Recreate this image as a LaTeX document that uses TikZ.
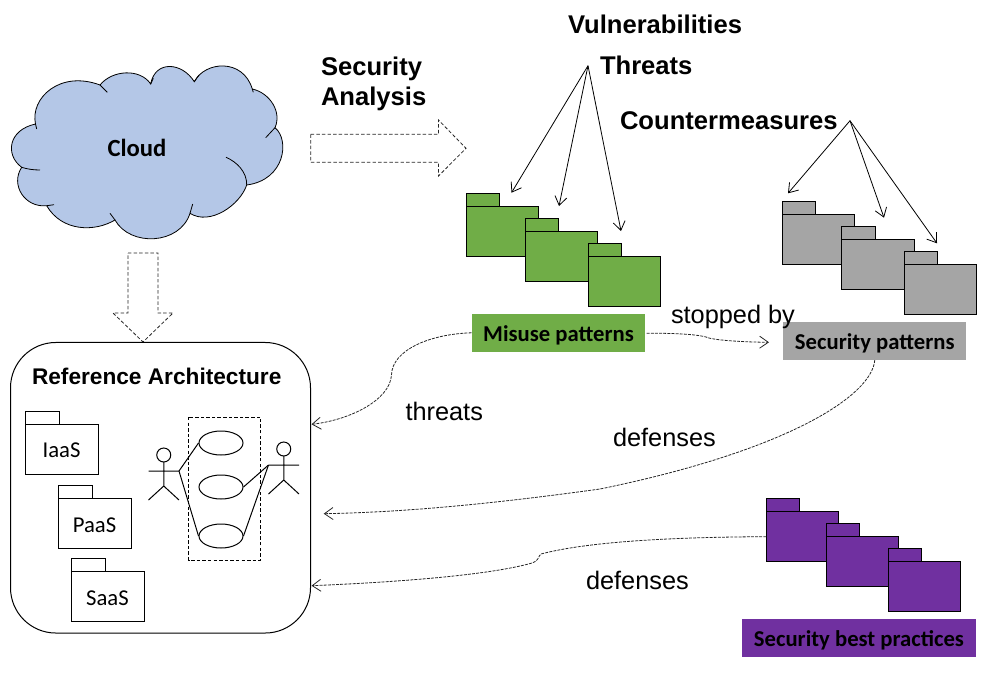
\documentclass[tikz,border=0pt]{standalone}
\usepackage{fontspec}
\setmainfont{Liberation Sans}
\newfontfamily\calibrifont{Carlito}
\usetikzlibrary{arrows.meta,shapes.geometric}
\definecolor{cloudblue}{HTML}{B4C7E7}
\definecolor{misusegreen}{HTML}{70AD47}
\definecolor{patterngray}{HTML}{A5A5A5}
\definecolor{bestpurple}{HTML}{7030A0}
\tikzset{
  pkg/.pic={
    \filldraw[pic actions] (0,0) rectangle (33.5,13);
    \filldraw[pic actions] (0,13) rectangle (72.5,63);
    \node[pkgfont] at (36,39.5) {#1};
  },
  actor/.pic={
    \draw (0,0) circle (7);
    \draw (0,7) -- (0,31) (-15.25,16) -- (15.25,16) (-15.25,45) -- (0,31) -- (15.25,45);
  },
  pkgfont/.style={font=\calibrifont\fontsize{17}{20}\selectfont,inner sep=0pt},
  headfont/.style={font=\fontsize{19.2}{23}\selectfont\bfseries,anchor=base west,inner sep=0pt},
  flowfont/.style={font=\fontsize{19}{23}\selectfont,anchor=base west,inner sep=0pt},
  patbox/.style={font=\calibrifont\fontsize{17}{21}\selectfont\bfseries,inner sep=0pt,minimum height=28.3pt,text height=15.5pt,text depth=3pt},
  ucase/.style={draw,ellipse,inner sep=0pt,minimum width=33pt,minimum height=18pt},
  hollow/.style={draw=black!85,line width=0.6pt,dash pattern=on 2.6pt off 1.6pt},
  flowline/.style={black!85,line width=0.6pt,dash pattern=on 2.2pt off 0.9pt,->},
  tipline/.style={line width=0.6pt,->},
}
\begin{document}
\begin{tikzpicture}[x=0.75pt,y=-0.75pt,>={Straight Barb[length=6.5pt,width=9pt]},line width=0.75pt]
  \useasboundingbox (0,0) rectangle (989,672);
  % cloud
  \filldraw[fill=cloudblue,line width=0.6pt] (35.5,124)
    .. controls (30,98) and (60,70) .. (100,85)
    .. controls (112,70) and (140,68) .. (150.7,84)
    .. controls (155,60) and (182,62) .. (194.3,81.7)
    .. controls (205,61) and (243,58) .. (252.3,89)
    .. controls (270,93) and (282,112) .. (275,127.7)
    .. controls (290,140) and (285,180) .. (246.7,185)
    .. controls (240,205) and (210,226) .. (190,213.3)
    .. controls (180,245) and (130,247) .. (115,220)
    .. controls (95,232) and (62,232) .. (46.7,205.7)
    .. controls (25,208) and (10,185) .. (21.7,167.3)
    .. controls (5,155) and (8,130) .. (35.5,124) -- cycle;
  \draw[line width=0.6pt] (35.5,124) -- (36.7,129)
    (21.7,167.3) .. controls (27,169) and (33,170) .. (40,170)
    (46.7,205.7) -- (54,204.7)
    (115,220) -- (110,213.3)
    (190,213.3) -- (192.7,204)
    (246.7,185) .. controls (247,172) and (237,162) .. (226,157.3)
    (275,127.7) -- (265.7,137.7)
    (252.3,89) -- (253.3,92.3)
    (194.3,81.7) -- (199,75)
    (150.7,84) -- (153.3,78.3)
    (100,85) -- (107.3,92.3);
  \node[font=\calibrifont\fontsize{18.5}{22}\selectfont\bfseries,inner sep=0pt] (cloud) at (137,148) {Cloud};
  % hollow arrows
  \draw[hollow] (128,253) -- (158,253) -- (158,313) -- (173,313) -- (143,342) -- (113,313) -- (128,313) -- cycle;
  \draw[hollow] (310.7,134.3) -- (438.5,134.3) -- (438.5,120) -- (466,148.3) -- (438.5,176) -- (438.5,162.3) -- (310.7,162.3) -- cycle;
  % top labels
  \node[headfont] (secanalysis) at (320.5,75) {Security};
  \node[headfont] (secanalysisb) at (320.5,105) {Analysis};
  \node[headfont] (vuln) at (567.5,33.5) {Vulnerabilities};
  \node[headfont] (threatslabel) at (599.5,74) {Threats};
  \node[headfont] (counter) at (619.5,129) {Countermeasures};
  % package stacks
  \foreach \px/\py in {466/193.3,525.4/218.3,588.2/243.3}
    \pic[fill=misusegreen] at (\px,\py) {pkg={}};
  \foreach \px/\py in {782.3/201.3,841.6/226.3,904.3/251.3}
    \pic[fill=patterngray] at (\px,\py) {pkg={}};
  \foreach \px/\py in {766.3/498.3,826.3/523.3,888.3/548.3}
    \pic[fill=bestpurple] at (\px,\py) {pkg={}};
  % fan arrows
  \coordinate (threathub) at (588,65.7);
  \coordinate (counterhub) at (850,120.7);
  \coordinate (greena) at (511.5,192.7);
  \coordinate (greenb) at (559,206);
  \coordinate (greenc) at (621,231);
  \coordinate (graya) at (788,193.3);
  \coordinate (grayb) at (884,217.7);
  \coordinate (grayc) at (937,243.3);
  \foreach \tip in {greena,greenb,greenc}
    \draw[tipline] (threathub) -- (\tip);
  \foreach \tip in {graya,grayb,grayc}
    \draw[tipline] (counterhub) -- (\tip);
  % pattern boxes
  \node[patbox,fill=misusegreen,minimum width=129.75pt] (misuse) at (558.5,332.8) {Misuse patterns};
  \node[patbox,fill=patterngray,minimum width=137.6pt] (secpat) at (874.75,340.8) {Security patterns};
  \node[patbox,fill=bestpurple,minimum width=175.5pt] (bestprac) at (859,637.8) {Security best practices};
  % reference architecture
  \node[draw,rounded corners=34pt,minimum width=225pt,minimum height=217.9pt,inner sep=0pt] (refarch) at (160.5,487.75) {};
  \node[headfont,font=\fontsize{17}{21}\selectfont\bfseries] (reflabel) at (31.5,384) {Reference Architecture};
  \pic[fill=white] at (25.5,411) {pkg={IaaS}};
  \pic[fill=white] at (58.5,485.5) {pkg={PaaS}};
  \pic[fill=white] at (71.5,558.5) {pkg={SaaS}};
  \draw[dash pattern=on 2.6pt off 1.6pt] (188.5,417) rectangle (260.5,560);
  \node[ucase] (ucasea) at (221,443) {};
  \node[ucase] (ucaseb) at (221,487) {};
  \node[ucase] (ucasec) at (221,536) {};
  \pic at (163.75,455) {actor};
  \pic at (283.75,449) {actor};
  \coordinate (lefthand) at (179,471);
  \coordinate (righthand) at (268.5,465);
  \draw (lefthand) -- (ucasea.west);
  \draw (lefthand) -- (ucasec.west);
  \draw (righthand) -- (ucaseb.east);
  \draw (righthand) -- (ucasec.east);
  % flows
  \coordinate (threatin) at (311.5,424.3);
  \coordinate (defensein) at (323.7,513.7);
  \coordinate (bestin) at (311.5,585.7);
  \coordinate (bestout) at (766.3,536.7);
  \coordinate (stopin) at (769,342.3);
  \coordinate (misuseout) at (646.7,333.3);
  \draw[flowline] (misuse.west) .. controls (430,334) and (392,350) .. (391.5,375) .. controls (390,400) and (350,420) .. (threatin);
  \draw[flowline] (misuseout) .. controls (670,333) and (695,334) .. (706,337) .. controls (712,340) and (740,342) .. (stopin);
  \draw[flowline] (secpat.south) .. controls (872,395) and (790,450) .. (600,489) .. controls (520,500) and (420,512) .. (defensein);
  \draw[flowline] (bestout) .. controls (680,537) and (590,541) .. (541,554) .. controls (538,556) and (540,560) .. (532,563) .. controls (490,575) and (400,582) .. (bestin);
  % flow labels
  \node[flowfont] (threatstext) at (405,420.5) {threats};
  \node[flowfont] (stoppedtext) at (670.5,323.5) {stopped by};
  \node[flowfont] (defensetext) at (612.5,446.5) {defenses};
  \node[flowfont] (defensetextb) at (585.5,589.5) {defenses};
\end{tikzpicture}
\end{document}
